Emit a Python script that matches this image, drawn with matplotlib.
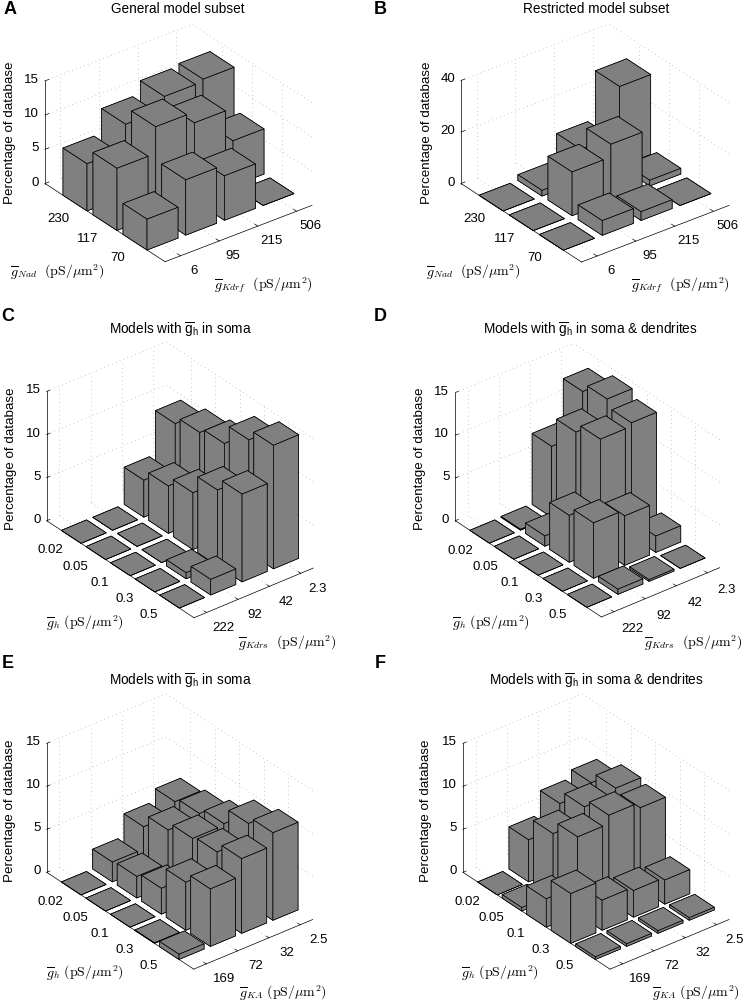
import matplotlib
matplotlib.use('Agg')
import matplotlib.pyplot as plt
from mpl_toolkits.mplot3d import proj3d

plt.rcParams['font.family'] = ['Liberation Sans', 'DejaVu Sans']
plt.rcParams['mathtext.fontset'] = 'cm'
plt.rcParams['mathtext.rm'] = 'Liberation Sans'
plt.rcParams['mathtext.it'] = 'Liberation Sans:italic'
plt.rcParams['mathtext.bf'] = 'Liberation Sans:bold'

W, H = 746, 1004
GREY = (0.5, 0.5, 0.5)

# rows run along the right hand axis, columns from the front corner to the left corner
heights_a = [[4.5, 9.1, 6.9], [8.1, 13, 10.5], [6.5, 11.4, 12.4], [0, 6.6, 12.75]]
heights_b = [[0, 0, 0], [5.7, 17, 2.2], [3.4, 22, 12.4], [0, 2.2, 31]]
heights_c = [[0, 0, 0, 0, 0], [1.8, 0.7, 0, 0, 0],
             [10.2, 8.8, 6.6, 5.5, 4.3], [14.35, 13.1, 10.8, 10.2, 9.35]]
heights_d = [[0, 0, 0, 0, 0], [0.6, 6.5, 5.5, 1.2, 0.1],
             [0.2, 5.8, 12.9, 11.85, 8.3], [0, 1.9, 13.3, 14.2, 13.2]]
heights_e = [[0.6, 0.05, 0, 0, 0], [6.7, 5.6, 3, 2.5, 2.3],
             [8.7, 7.6, 7.3, 6.4, 4.9], [10.2, 9.4, 7.5, 6.8, 6.3]]
heights_f = [[0.3, 5.8, 3.3, 0.4, 0], [0.3, 3.5, 9.0, 7.5, 4.9],
             [0.3, 3.1, 10, 9.1, 7.6], [0.3, 2.8, 9.35, 9.75, 8.5]]

ticks_kdrf = ['6', '95', '215', '506']
ticks_nad = ['70', '117', '230']
ticks_kdrs = ['222', '92', '42', '2.3']
ticks_ka = ['169', '72', '32', '2.5']
ticks_gh = ['0.5', '0.3', '0.1', '0.05', '0.02']
zticks_15 = [0, 5, 10, 15]
zticks_40 = [0, 20, 40]

label_nad = r'$\overline{g}_{Nad}\ \ (\mathrm{pS}/\mu\mathrm{m}^2)$'
label_kdrf = r'$\overline{g}_{Kdrf}\ \ (\mathrm{pS}/\mu\mathrm{m}^2)$'
label_kdrs = r'$\overline{g}_{Kdrs}\ \ (\mathrm{pS}/\mu\mathrm{m}^2)$'
label_ka = r'$\overline{g}_{KA}\ (\mathrm{pS}/\mu\mathrm{m}^2)$'
label_gh = r'$\overline{g}_{h}\ (\mathrm{pS}/\mu\mathrm{m}^2)$'
gh_title = r'$\overline{\mathrm{g}}_{\mathrm{h}}$'

fig = plt.figure(figsize=(W / 100, H / 100), dpi=100)


def px_text(x, y, s, **kw):
    fig.text(x / W, 1 - y / H, s, ha=kw.pop('ha', 'center'), va=kw.pop('va', 'center'), **kw)


def panel(letter, letter_xy, title, title_xy, heights, xticks, yticks, zticks, xlab, xlab_xy,
          ylab, ylab_xy, zlab_xy, left_px, right_px, xoff=(19, -16), yoff=(-19, -13.5)):
    nx, ny = len(heights), len(heights[0])
    xlim = (0.6, nx + 0.4)
    ylim = (0, ny + 1)
    zlim = (zticks[0], zticks[-1])
    # the top two panels and the lower four were exported with slightly different views
    elev, azim, box = (30, -127.5, (186, 198, 119)) if ny == 3 else (31.6, -128.5, (151, 234.5, 150.3))

    ax = fig.add_axes([0.1, 0.1, 0.5, 0.5 * W / H], projection='3d', proj_type='ortho')
    ax.computed_zorder = False
    ax.set_axis_off()
    ax.patch.set_alpha(0)
    ax.view_init(elev=elev, azim=azim)
    ax.set_box_aspect(box)
    ax.set_xlim(*xlim, view_margin=0)
    ax.set_ylim(*ylim, view_margin=0)
    ax.set_zlim(*zlim, view_margin=0)

    xs = list(range(1, nx + 1))
    ys = list(range(1, ny + 1))

    # dotted grid on the floor and on the two back walls
    grid = dict(color='0.6', lw=0.5, ls=(0, (1, 5)), zorder=1)
    for x in xs:
        ax.plot([x, x], ylim, [zlim[0]] * 2, **grid)
        ax.plot([x, x], [ylim[1]] * 2, zlim, **grid)
    for y in ys:
        ax.plot(xlim, [y, y], [zlim[0]] * 2, **grid)
        ax.plot([xlim[1]] * 2, [y, y], zlim, **grid)
    for z in zticks[1:]:
        ax.plot(xlim, [ylim[1]] * 2, [z, z], **grid)
        ax.plot([xlim[1]] * 2, ylim, [z, z], **grid)

    # axis lines and tick marks
    line = dict(color='k', lw=0.5, zorder=2)
    ax.plot(xlim, [ylim[0]] * 2, [zlim[0]] * 2, **line)
    ax.plot([xlim[0]] * 2, ylim, [zlim[0]] * 2, **line)
    ax.plot([xlim[0]] * 2, [ylim[1]] * 2, zlim, **line)
    for x in xs:
        ax.plot([x, x], [0, 0.1], [zlim[0]] * 2, **line)
    for y in ys:
        ax.plot([xlim[0], xlim[0] + 0.1], [y, y], [zlim[0]] * 2, **line)
    for z in zticks:
        ax.plot([xlim[0], xlim[0] + 0.1], [ylim[1]] * 2, [z, z], **line)

    # far bars first so the near ones paint over them
    order = sorted(((i, j) for i in range(nx) for j in range(ny)), key=lambda p: -(p[0] + p[1]))
    for k, (i, j) in enumerate(order):
        ax.bar3d(xs[i] - 0.4, ys[j] - 0.4, 0, 0.8, 0.8, heights[i][j], color=GREY,
                 edgecolor='k', linewidth=0.5, shade=False, zorder=3 + k)

    # move the axes so the floor corners land on the reference pixels
    M = ax.get_proj()
    xl, yl, _ = proj3d.proj_transform(xlim[0], ylim[1], zlim[0], M)
    xr, _, _ = proj3d.proj_transform(xlim[1], ylim[0], zlim[0], M)
    x0, x1 = ax.viewLim.intervalx
    y0, y1 = ax.viewLim.intervaly
    scale = (right_px[0] - left_px[0]) / (xr - xl)
    wid = scale * (x1 - x0)
    hei = scale * (y1 - y0)
    left = left_px[0] - (xl - x0) * scale
    bottom = (H - left_px[1]) - (yl - y0) * scale
    ax.set_position([left / W, bottom / H, wid / W, hei / H])

    def tick_text(x, y, z, s, dx, dy, **kw):
        px, py, _ = proj3d.proj_transform(x, y, z, M)
        ax.annotate(s, (px, py), xytext=(dx * 0.72, dy * 0.72), textcoords='offset points',
                    fontsize=9.5, annotation_clip=False, **kw)

    for x, s in zip(xs, xticks):
        tick_text(x, ylim[0], zlim[0], s, xoff[0], xoff[1], ha='center', va='center')
    for y, s in zip(ys, yticks):
        tick_text(xlim[0], y, zlim[0], s, yoff[0], yoff[1], ha='center', va='center')
    for z in zticks:
        tick_text(xlim[0], ylim[1], z, str(z), -6, 2, ha='right', va='center')

    px_text(*letter_xy, letter, fontsize=13, fontweight='bold')
    px_text(*title_xy, title, fontsize=9.8, math_fontfamily='custom')
    px_text(*zlab_xy, 'Percentage of database', fontsize=9.6, rotation=90)
    px_text(*xlab_xy, xlab, fontsize=10)
    px_text(*ylab_xy, ylab, fontsize=10)


panel('A', (10, 10), 'General model subset', (178, 9), heights_a, ticks_kdrf, ticks_nad, zticks_15,
      label_kdrf, (263, 285), label_nad, (57, 272), (10, 133), (45, 184.5), (312, 207.5),
      xoff=(14, -14), yoff=(-17, -15))
panel('B', (380, 10), 'Restricted model subset', (596, 9), heights_b, ticks_kdrf, ticks_nad, zticks_40,
      label_kdrf, (680, 285), label_nad, (473, 272), (427, 133), (461, 184.5), (729, 207.5),
      xoff=(14, -14), yoff=(-17, -15))
panel('C', (8, 317), 'Models with ' + gh_title + ' in soma', (180, 330), heights_c, ticks_kdrs, ticks_gh, zticks_15,
      label_kdrs, (287, 643), label_gh, (85, 623), (11.5, 459), (46.7, 521.7), (313.3, 568.3),
      xoff=(17, -14.5), yoff=(-20.5, -12.5))
panel('D', (380, 317), 'Models with ' + gh_title + ' in soma & dendrites', (590, 330), heights_d, ticks_kdrs, ticks_gh, zticks_15,
      label_kdrs, (693, 643), label_gh, (491, 623), (419.5, 459), (455.3, 521.7), (719.7, 568.3))
panel('E', (8, 664), 'Models with ' + gh_title + ' in soma', (180, 681), heights_e, ticks_ka, ticks_gh, zticks_15,
      label_ka, (283, 993), label_gh, (85, 973), (10.5, 811), (46.7, 873.3), (312.7, 921.7),
      xoff=(18, -14), yoff=(-20.5, -12.5))
panel('F', (380, 664), 'Models with ' + gh_title + ' in soma & dendrites', (596, 681), heights_f, ticks_ka, ticks_gh, zticks_15,
      label_ka, (696, 993), label_gh, (500, 973), (425.5, 811), (463, 873.3), (729, 921.7),
      xoff=(18, -14), yoff=(-20.5, -12.5))

fig.savefig('out.png', dpi=100)
